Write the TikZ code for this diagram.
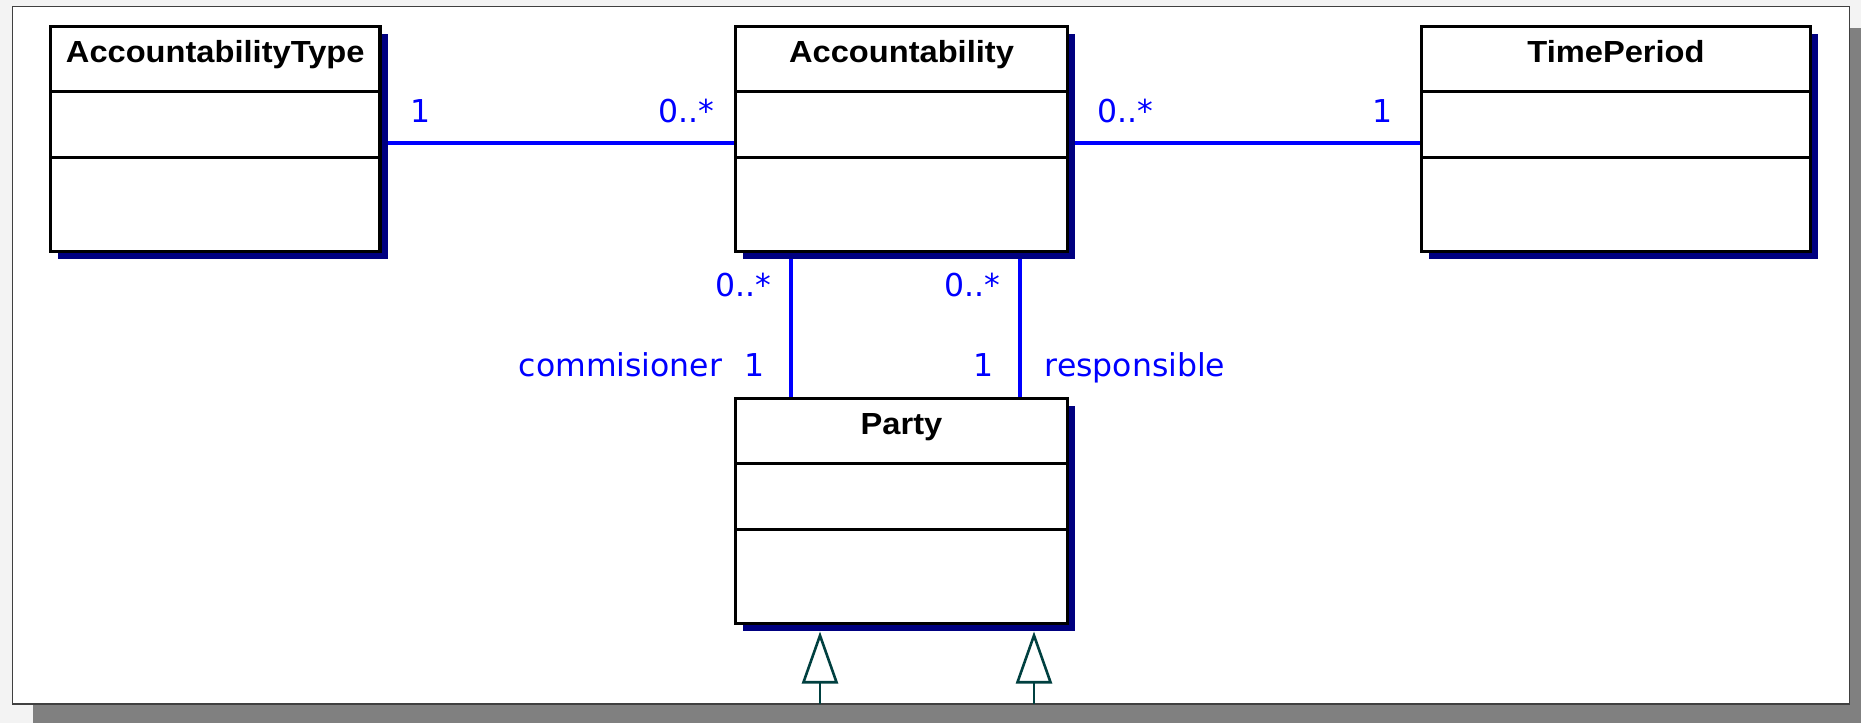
\documentclass[tikz,border=0pt]{standalone}
\usepackage{fontspec}
\usepackage{tikz}
\usetikzlibrary{arrows.meta, positioning, shadows}
\newfontfamily\titlefont{Liberation Sans}[FakeStretch=1.07]
\newfontfamily\labelfont{DejaVu Sans}
\definecolor{assocblue}{RGB}{0,0,255}
\definecolor{shadowblue}{RGB}{0,0,128}
\definecolor{genteal}{RGB}{0,64,64}
\definecolor{framegray}{RGB}{128,128,128}
\definecolor{pagegray}{RGB}{243,243,243}

\begin{document}
\begin{tikzpicture}[x=1pt,y=-1pt,
  class box/.style={draw,fill=white,line width=3.5pt,inner sep=0pt,outer sep=0pt,
    text height=36pt,text depth=189pt,font=\titlefont\bfseries\fontsize{30.5}{34}\selectfont,
    drop shadow={shadow xshift=7.5pt,shadow yshift=-7pt,fill=shadowblue,opacity=1}},
  divider/.style={line width=3pt},
  assoc/.style={assocblue,line width=3.2pt},
  mult/.style={assocblue,inner sep=0pt,anchor=base,font=\labelfont\fontsize{31.5}{36}\selectfont},
  gen/.style={genteal,line width=2.6pt,-{Triangle[open,length=52pt,width=36pt]}}]

  % page and frame
  \path[use as bounding box,fill=pagegray] (0,0) rectangle (1861,723);
  \fill[framegray] (33,28) rectangle (1861,723);
  \draw[fill=white,draw=black!75,line width=1.2pt] (12.5,6.5) rectangle (1849.5,704);

  \node[class box,minimum width=329.5pt,anchor=north west] (1) at (50.5,26.5) {AccountabilityType};
  \node[class box,minimum width=332pt,right=355.5pt of 1] (2) {Accountability};
  \node[class box,minimum width=389pt,right=354pt of 2] (3) {TimePeriod};
  \node[class box,minimum width=332pt,below=147pt of 2] (4) {Party};

  \foreach \n in {1,2,3,4} {
    \draw[divider] ([yshift=-65pt]\n.north west) -- ([yshift=-65pt]\n.north east);
    \draw[divider] ([yshift=-130.5pt]\n.north west) -- ([yshift=-130.5pt]\n.north east);
  }

  % associations
  \draw[assoc,shorten <=8pt,shorten >=1.5pt] ([yshift=-4pt]1.east) -- ([yshift=-4pt]2.west);
  \draw[assoc,shorten <=7.5pt,shorten >=1.5pt] ([yshift=-4pt]2.east) -- ([yshift=-4pt]3.west);
  \draw[assoc,shorten <=7pt,shorten >=1.5pt] ([xshift=55.5pt]2.south west) -- ([xshift=55.5pt]4.north west);
  \draw[assoc,shorten <=7pt,shorten >=1.5pt] ([xshift=-47.5pt]2.south east) -- ([xshift=-47.5pt]4.north east);

  \node[mult] (m1) at (421,122) {1};
  \node[mult] (m2) at (686,122) {0..*};
  \node[mult] (m3) at (1125,122) {0..*};
  \node[mult] (m4) at (1383,122) {1};
  \node[mult] (m5) at (743,296) {0..*};
  \node[mult] (m6) at (972,296) {0..*};
  \node[mult] (r1) at (620.5,376) {commisioner};
  \node[mult] (m7) at (755,376) {1};
  \node[mult] (m8) at (984,376) {1};
  \node[mult] (r2) at (1135,376) {responsible};

  % generalizations from below
  \coordinate (g1) at (820,704);
  \coordinate (g2) at (1034,704);
  \draw[gen,shorten >=8pt] (g1) -- (g1 |- 4.south);
  \draw[gen,shorten >=8pt] (g2) -- (g2 |- 4.south);
\end{tikzpicture}
\end{document}
